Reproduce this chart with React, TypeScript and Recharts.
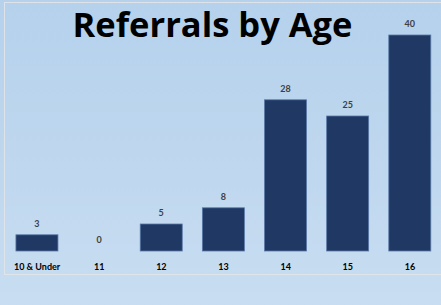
import { BarChart, Bar, XAxis, YAxis } from "recharts"

const ages = ["10 & Under", "11", "12", "13", "14", "15", "16"]
const referrals = [3, 0, 5, 8, 28, 25, 40]

const data = ages.map((age, i) => ({ age, value: referrals[i] }))

// bar + value label drawn together so the zero bar still gets its "0"
const BarWithLabel = (props: any) => {
  const { x, y, width, height, value } = props
  const v = Array.isArray(value) ? value[1] - value[0] : value
  return (
    <g>
      {height > 0 && (
        <rect
          x={x}
          y={y}
          width={width}
          height={height}
          fill="#1f3864"
          stroke="#5a78a6"
          strokeWidth={0.8}
        />
      )}
      <text
        x={x + width / 2}
        y={y - 8}
        textAnchor="middle"
        fontSize={9}
        fontWeight={700}
        fill="#404040"
      >
        {v}
      </text>
    </g>
  )
}

export default function App() {
  return (
    <div
      style={{
        position: "fixed",
        left: 0,
        top: 0,
        width: 441,
        height: 305,
        overflow: "hidden",
        background: "linear-gradient(180deg, #b5d1ec 0%, #c0d8ef 60%, #c8ddf1 100%)",
        fontFamily: "Lato, 'Open Sans', sans-serif",
      }}
    >
      <div
        style={{
          position: "absolute",
          left: 4,
          top: 2,
          width: 460,
          height: 271,
          border: "1px solid rgba(225,228,232,0.9)",
        }}
      />
      <div
        style={{
          position: "absolute",
          left: 0,
          width: 425,
          top: 0,
          textAlign: "center",
          fontSize: 34.5,
          fontWeight: 700,
          fontFamily: "'Open Sans', sans-serif",
          color: "#000",
          lineHeight: "47px",
        }}
      >
        Referrals by Age
      </div>
      <div style={{ position: "absolute", left: 0, top: 0 }}>
        <BarChart
          width={441}
          height={305}
          data={data}
          margin={{ top: 35, right: 0, left: 6, bottom: 24 }}
          barCategoryGap="16%"
        >
          <XAxis
            dataKey="age"
            axisLine={false}
            tickLine={false}
            tickSize={0}
            tickMargin={13}
            interval={0}
            tick={{ fontSize: 9, fontWeight: 700, fill: "#000" }}
          />
          <YAxis hide domain={[0, 40]} />
          <Bar
            dataKey="value"
            fill="#1f3864"
            shape={BarWithLabel}
            isAnimationActive={false}
          />
        </BarChart>
      </div>
    </div>
  )
}
